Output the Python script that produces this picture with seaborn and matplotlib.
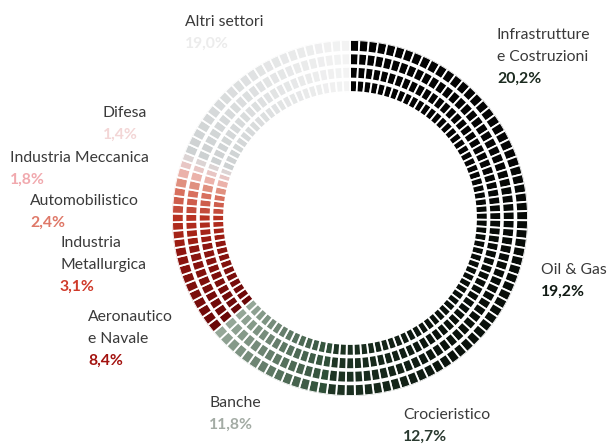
import numpy as np
import matplotlib
matplotlib.use("Agg")
import matplotlib.pyplot as plt
import seaborn as sns

# ---- data ----
sectors = ["Infrastrutture\ne Costruzioni", "Oil & Gas", "Crocieristico", "Banche",
           "Aeronautico\ne Navale", "Industria\nMetallurgica", "Automobilistico",
           "Industria Meccanica", "Difesa", "Altri settori"]
shares = [20.2, 19.2, 12.7, 11.8, 8.4, 3.1, 2.4, 1.8, 1.4, 19.0]
value_labels = ["20,2%", "19,2%", "12,7%", "11,8%", "8,4%", "3,1%", "2,4%",
                "1,8%", "1,4%", "19,0%"]

# ---- style ----
seg_colors = [("#020202", "#050505"), ("#060806", "#0a120c"), ("#0a120c", "#1e3524"),
              ("#2f4f38", "#95a798"), ("#6a0808", "#8e1510"), ("#9c1c12", "#b83222"),
              ("#c44c3c", "#d8705e"), ("#e0907f", "#ebb2aa"), ("#e8c6c4", "#dcd4d4"),
              ("#cdd1d2", "#f3f3f3")]
value_colors = ["#1b2a1f", "#111a14", "#2a3a30", "#a3aba4", "#a3120f", "#cf3a2a",
                "#df7868", "#f1a9ae", "#f3d6d6", "#ececec"]
label_pos = [(497, 35), (541, 270), (403, 415), (209, 403), (88, 317), (60, 243),
             (30, 201), (10, 158), (103, 113), (185, 22)]

sns.set_theme(style="white")
plt.rcParams["font.family"] = ["Lato", "DejaVu Sans"]

W, H = 609, 444
fig = plt.figure(figsize=(W / 100, H / 100), dpi=100)
fig.patch.set_facecolor("white")

cx, cy, R = 350, 218, 178
ax = fig.add_axes([(cx - R) / W, 1 - (cy + R) / H, 2 * R / W, 2 * R / H],
                  projection="polar")
ax.set_theta_zero_location("N")
ax.set_theta_direction(-1)
ax.set_ylim(0, R)
ax.axis("off")

ring_inner = 126
n_rings = 4
gap = 1.8
thick = (R - ring_inner - gap * (n_rings - 1)) / n_rings
cell_deg = 3.0

total = sum(shares)
start = 0.0
for share, (c0, c1) in zip(shares, seg_colors):
    span = share / total * 2 * np.pi
    n = max(1, int(round(np.degrees(span) / cell_deg)))
    w = span / n
    thetas = start + w * (np.arange(n) + 0.5)
    cols = sns.blend_palette([c0, c1], n)
    for k in range(n_rings):
        ax.bar(thetas, thick, width=w, bottom=ring_inner + k * (thick + gap),
               color=cols, edgecolor="white", linewidth=1.3, align="center")
    start += span

step = 22
for name, val, vc, (x, y) in zip(sectors, value_labels, value_colors, label_pos):
    lines = name.split("\n")
    for i, ln in enumerate(lines):
        fig.text(x / W, 1 - (y + i * step) / H, ln, ha="left", va="center",
                 fontsize=11.3, color="#3a3a3a")
    fig.text(x / W, 1 - (y + len(lines) * step) / H, val, ha="left", va="center",
             fontsize=11.3, fontweight="bold", color=vc)

fig.savefig("out.png", dpi=100, facecolor="white")
